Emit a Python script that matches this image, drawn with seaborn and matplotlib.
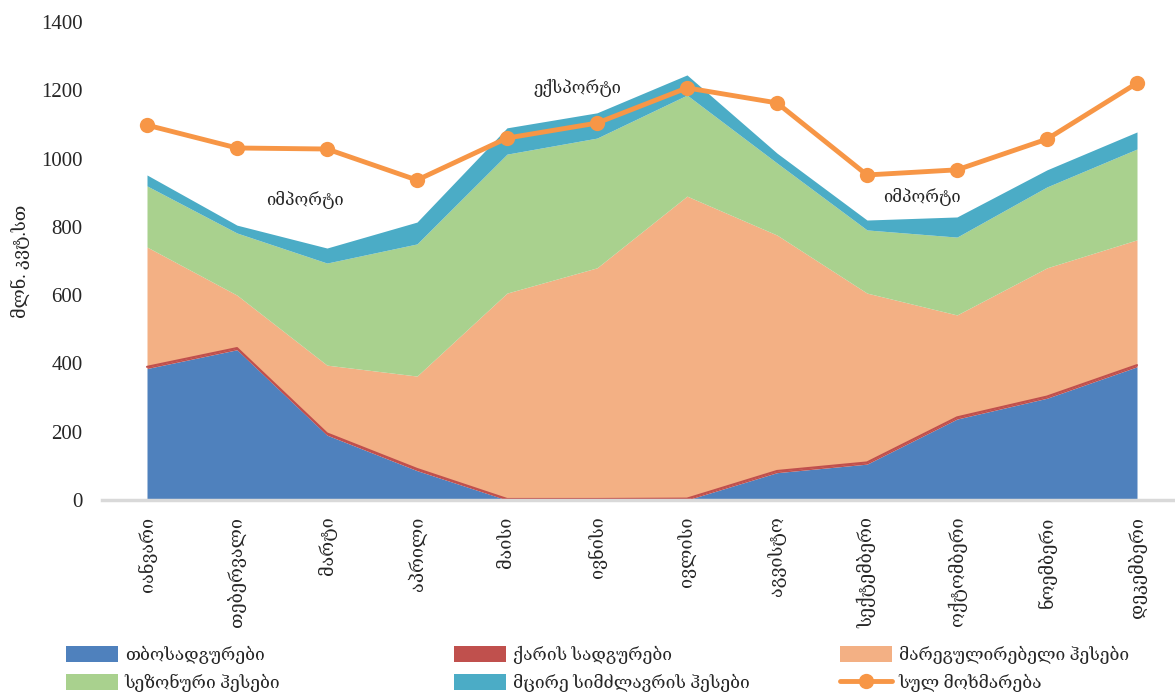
import numpy as np
import pandas as pd
import matplotlib
matplotlib.use("Agg")
import matplotlib.pyplot as plt
import seaborn as sns

months = ["იანვარი", "თებერვალი", "მარტი", "აპრილი", "მაისი", "ივნისი",
          "ივლისი", "აგვისტო", "სექტემბერი", "ოქტომბერი", "ნოემბერი", "დეკემბერი"]

thermal = [385, 440, 190, 86, 0, 0, 0, 80, 105, 237, 298, 390]
wind = [5, 5, 5, 5, 3, 3, 4, 5, 5, 5, 5, 5]
regulating = [351, 155, 200, 272, 603, 677, 886, 691, 496, 300, 377, 367]
seasonal = [179, 182, 299, 387, 407, 380, 296, 211, 185, 228, 237, 266]
small_hpp = [32, 23, 44, 64, 77, 74, 59, 29, 29, 59, 50, 50]
total = [1098, 1031, 1028, 937, 1060, 1104, 1207, 1163, 952, 967, 1057, 1221]

series_names = ["თბოსადგურები", "ქარის სადგურები", "მარეგულირებელი ჰესები",
                "სეზონური ჰესები", "მცირე სიმძლავრის ჰესები"]
line_name = "სულ მოხმარება"
colors = ["#4F81BD", "#C0504D", "#F3B084", "#A9D18E", "#4BACC6"]
line_color = "#F79646"

sns.set_theme(style="white")
plt.rcParams["font.family"] = ["Liberation Serif", "DejaVu Serif", "DejaVu Sans"]

fig = plt.figure(figsize=(11.75, 6.99), dpi=100)
ax = fig.add_axes([102 / 1175, 199 / 699, 1080 / 1175, (500 - 22) / 699])

x = np.arange(len(months))
ax.stackplot(x, thermal, wind, regulating, seasonal, small_hpp,
             colors=colors, labels=series_names, linewidth=0)
# thin red edge of the wind layer
ax.plot(x, np.array(thermal) + np.array(wind), color=colors[1], lw=1.5)

df = pd.DataFrame({"x": x, "total": total})
sns.lineplot(data=df, x="x", y="total", ax=ax, color=line_color, lw=3.5,
             marker="o", markersize=11, markeredgewidth=0, label=line_name)

ax.set_xlim(-0.5, 11.5)
ax.set_ylim(0, 1400)
ax.set_yticks(range(0, 1401, 200))
ax.set_xticks(x)
ax.set_xticklabels(months, rotation=90, fontsize=13)
ax.tick_params(axis="y", labelsize=15, length=0, pad=14)
ax.tick_params(axis="x", length=0, pad=12)
ax.set_xlabel("")
ax.set_ylabel("მლნ. კვტ.სთ", fontsize=13, labelpad=8)

for side in ["top", "right", "left"]:
    ax.spines[side].set_visible(False)
ax.spines["bottom"].set_color("#D9D9D9")
ax.spines["bottom"].set_linewidth(2.5)
ax.grid(False)

ax.text(1.76, 880, "იმპორტი", fontsize=12, ha="center", va="center")
ax.text(4.78, 1208, "ექსპორტი", fontsize=12, ha="center", va="center")
ax.text(8.61, 888, "იმპორტი", fontsize=12, ha="center", va="center")

ax.get_legend().remove()
handles, labels = ax.get_legend_handles_labels()
# three legend columns, each with two rows
groups = [[0, 3], [1, 4], [2, 5]]
col_x = [50 / 1175, 438 / 1175, 824 / 1175]
for g, cx in zip(groups, col_x):
    fig.legend([handles[i] for i in g], [labels[i] for i in g],
               loc="lower left", bbox_to_anchor=(cx, -0.012), ncol=1,
               frameon=False, fontsize=12.5, handlelength=3.0, handleheight=1.0,
               labelspacing=0.55, handletextpad=0.4)

fig.savefig("out.png", dpi=100)
